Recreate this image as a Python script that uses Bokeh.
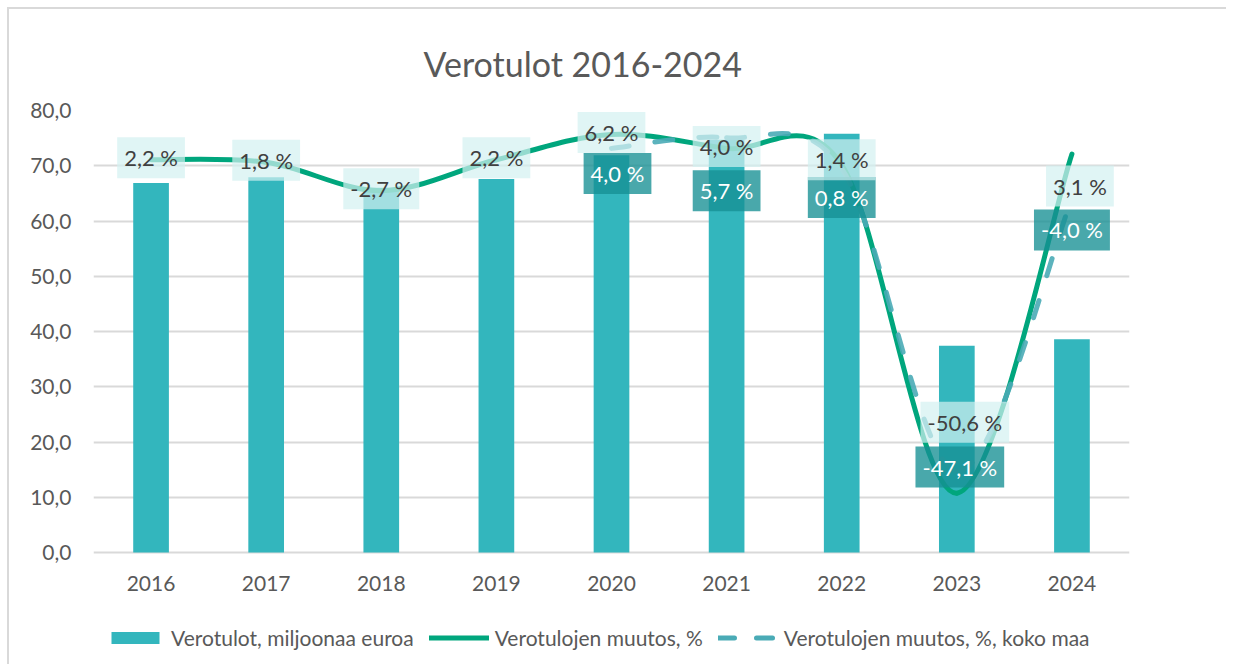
import numpy as np
from bokeh.plotting import figure
from bokeh.models import Range1d, FixedTicker, ColumnDataSource, Legend, LegendItem
from bokeh.core.properties import value
from bokeh.embed import file_html
from bokeh.resources import INLINE

# ---------------- data ----------------
years = ["2016", "2017", "2018", "2019", "2020", "2021", "2022", "2023", "2024"]
verotulot = [66.9, 67.9, 66.0, 67.6, 71.9, 74.7, 75.8, 37.4, 38.6]          # milj. euroa
muutos = [2.2, 1.8, -2.7, 2.2, 6.2, 4.0, 1.4, -50.6, 3.1]                    # %
koko_maa_years = ["2020", "2021", "2022", "2023", "2024"]
muutos_koko_maa = [4.0, 5.7, 0.8, -47.1, -4.0]                               # %
y_ticks = [0, 10, 20, 30, 40, 50, 60, 70, 80]
y_min, y_max = 0, 80            # primary axis (milj. euroa)
pct_min, pct_max = -60, 10      # hidden secondary axis (%)

# ---------------- layout helpers (pixels) ----------------
muutos_dx = [0, 0, 0, 0, 0, 0, 0, 8, 8]
muutos_dy = [-2, -2, -2, -2, -2, -2, -5, -71, 32]
koko_dx = [6, 0, 0, 3, 0]
koko_dy = [25, 53, 29, -4, 31]
FRAME_H = 442          # pixel height of the 0..80 value area
BELOW_PX = 106         # extra frame room under 0 for year labels + legend

FONT = "Lato"
TXT = "#595959"
BAR = "#33B6BD"
GREEN = "#00A67D"
DASH = "#4AABB6"
GRID = "#D9D9D9"

xs = list(range(len(years)))
xs_k = [years.index(y) for y in koko_maa_years]

# extend ranges downward so the legend sits inside the frame
ext = (y_max - y_min) * BELOW_PX / FRAME_H
y_lo = y_min - ext
pct_lo = pct_min - ext * (pct_max - pct_min) / (y_max - y_min)


def fmt_pct(v):
    return f"{v:.1f}".replace(".", ",") + " %"


def bezier_segments(xv, yv):
    P = list(zip(xv, yv))
    n = len(P)
    out = {k: [] for k in ("x0", "y0", "x1", "y1", "cx0", "cy0", "cx1", "cy1")}
    for i in range(n - 1):
        pm = P[max(i - 1, 0)]
        p0 = P[i]
        p1 = P[i + 1]
        pp = P[min(i + 2, n - 1)]
        out["x0"].append(p0[0]); out["y0"].append(p0[1])
        out["x1"].append(p1[0]); out["y1"].append(p1[1])
        out["cx0"].append(p0[0] + (p1[0] - pm[0]) / 6.0)
        out["cy0"].append(p0[1] + (p1[1] - pm[1]) / 6.0)
        out["cx1"].append(p1[0] - (pp[0] - p0[0]) / 6.0)
        out["cy1"].append(p1[1] - (pp[1] - p0[1]) / 6.0)
    return out


p = figure(width=1219, height=657, output_backend="svg", toolbar_location=None,
           x_range=Range1d(-0.5, len(years) - 0.5), y_range=Range1d(y_lo, y_max),
           min_border_left=84, min_border_right=99, min_border_top=101, min_border_bottom=8)
p.extra_y_ranges = {"pct": Range1d(pct_lo, pct_max)}
p.styles = {"margin-top": "7px", "margin-left": "7px",
            "border-top": "2px solid #D9D9D9", "border-left": "2px solid #D9D9D9"}
p.outline_line_color = None
p.background_fill_color = "white"
p.border_fill_color = "white"

# title
p.title.text = "Verotulot 2016-2024"
p.title.align = "left"
p.title.offset = 330
p.title.text_font = FONT
p.title.text_font_size = "34px"
p.title.text_font_style = "normal"
p.title.text_color = TXT
p.title.standoff = 53

# axes
p.yaxis.ticker = FixedTicker(ticks=y_ticks)
p.yaxis.major_label_overrides = {t: f"{t:.1f}".replace(".", ",") for t in y_ticks}
p.xaxis.ticker = FixedTicker(ticks=xs)
p.xaxis.major_label_overrides = {i: y for i, y in enumerate(years)}
p.xaxis.fixed_location = y_min
for ax in (p.xaxis[0], p.yaxis[0]):
    ax.axis_line_color = None
    ax.major_tick_line_color = None
    ax.minor_tick_line_color = None
    ax.major_label_text_font = FONT
    ax.major_label_text_font_size = "21px"
    ax.major_label_text_color = TXT
p.yaxis.major_label_standoff = 16
p.xaxis.major_label_standoff = 17
p.xgrid.grid_line_color = None
p.ygrid.grid_line_color = GRID
p.ygrid.grid_line_width = 2

# bars
bar_src = ColumnDataSource(dict(x=xs, top=verotulot))
bars = p.vbar(x="x", top="top", bottom=y_min, width=0.31, source=bar_src,
              fill_color=BAR, line_color=None)

# smoothed lines
g = p.bezier(source=ColumnDataSource(bezier_segments(xs, muutos)),
             x0="x0", y0="y0", x1="x1", y1="y1", cx0="cx0", cy0="cy0", cx1="cx1", cy1="cy1",
             line_color=GREEN, line_width=5, line_cap="round", y_range_name="pct")
d = p.bezier(source=ColumnDataSource(bezier_segments(xs_k, muutos_koko_maa)),
             x0="x0", y0="y0", x1="x1", y1="y1", cx0="cx0", cy0="cy0", cx1="cx1", cy1="cy1",
             line_color=DASH, line_width=5, line_cap="round", line_dash="18 26",
             line_alpha=0.9, y_range_name="pct")

# data labels
k_src = ColumnDataSource(dict(x=xs_k, y=muutos_koko_maa, t=[fmt_pct(v) for v in muutos_koko_maa],
                              dx=koko_dx, dy=koko_dy))
p.text(x="x", y="y", text="t", source=k_src, x_offset="dx", y_offset="dy",
       text_align="center", text_baseline="middle", text_font=value(FONT),
       text_font_size="22px", text_color="white",
       background_fill_color="#168F94", background_fill_alpha=0.78, padding=7,
       y_range_name="pct")
m_src = ColumnDataSource(dict(x=xs, y=muutos, t=[fmt_pct(v) for v in muutos],
                              dx=muutos_dx, dy=muutos_dy))
p.text(x="x", y="y", text="t", source=m_src, x_offset="dx", y_offset="dy",
       text_align="center", text_baseline="middle", text_font=value(FONT),
       text_font_size="22px", text_color="#404040",
       background_fill_color="#D3F1F1", background_fill_alpha=0.7, padding=7,
       y_range_name="pct")

# legend (proxy renderers for the lines)
nan = float("nan")
lg = p.line(x=[0, 1], y=[nan, nan], line_color=GREEN, line_width=5, line_cap="round")
ld = p.line(x=[0, 1], y=[nan, nan], line_color=DASH, line_width=5, line_cap="round",
            line_dash="16 22")
legend = Legend(items=[LegendItem(label="Verotulot, miljoonaa euroa", renderers=[bars]),
                       LegendItem(label="Verotulojen muutos, %", renderers=[lg]),
                       LegendItem(label="Verotulojen muutos, %, koko maa", renderers=[ld])],
                orientation="horizontal", location=(12, 8),
                glyph_width=60, glyph_height=15, label_standoff=6, spacing=15,
                padding=0, margin=0, border_line_color=None, background_fill_alpha=0,
                label_text_font=FONT, label_text_font_size="21px", label_text_color=TXT)
p.add_layout(legend)

open("out.html", "w").write(file_html(p, INLINE))
